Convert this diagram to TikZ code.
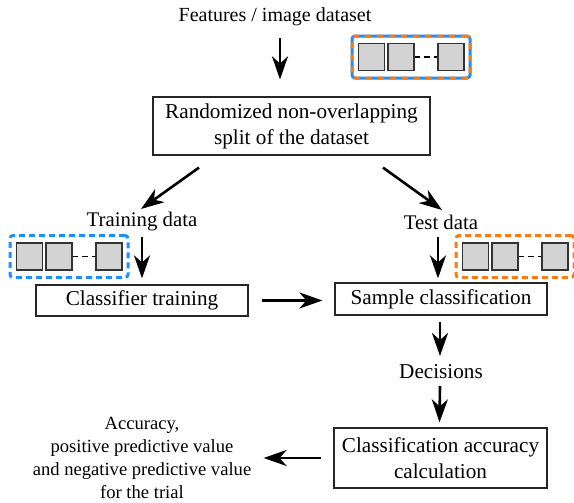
\documentclass[tikz,border=0pt]{standalone}
\usepackage{fontspec}
\setmainfont{Liberation Serif}
\usetikzlibrary{arrows.meta,positioning}

\definecolor{setblue}{HTML}{1E8FFF}
\definecolor{setorange}{HTML}{FF7A0F}
\definecolor{cellgray}{HTML}{D3D3D3}

\tikzset{
  box/.style={draw=black!85,line width=0.6pt,align=center,inner sep=0pt,
    font=\fontsize{10.6}{13}\selectfont},
  lbl/.style={inner sep=0pt,font=\fontsize{10.4}{12}\selectfont},
  arr/.style={-{Stealth[length=11.5pt,width=8pt,inset=3.5pt]},line width=1.3pt},
  cell/.style={draw=black!80,fill=cellgray,line width=0.8pt,
    minimum width=13pt,minimum height=13.5pt,inner sep=0pt},
  setbox/.style={minimum width=59pt,minimum height=21pt,inner sep=0pt,
    line width=1.5pt,rounded corners=1.5pt},
  trainset/.style={setbox,draw=setblue,dash pattern=on 3pt off 2pt},
  testset/.style={setbox,draw=setorange,dash pattern=on 3pt off 2pt},
  fullset/.style={setbox,draw=setblue,
    postaction={draw=setorange,dash pattern=on 3pt off 3pt}},
}

% three samples with dots in between, inside a set frame
\newcommand{\cellrow}[1]{%
  \node[cell,right=3.5pt of #1.west] (#1a) {};
  \node[cell,right=1pt of #1a] (#1b) {};
  \node[cell,left=3.5pt of #1.east] (#1c) {};
  \draw[line width=0.8pt,dash pattern=on 2.6pt off 2.2pt] (#1b.east) -- (#1c.west);
}

\begin{document}
\begin{tikzpicture}[x=0.5pt,y=-0.5pt]
\useasboundingbox (0,0) rectangle (574,503);
% ---------- dataset and split ----------
\node[inner sep=0pt,font=\fontsize{10}{12}\selectfont] (features) at (275,17)
  {Features / image dataset};
\node[fullset] (dataset) at (411,57) {};
\cellrow{dataset}
\node[box,minimum width=138.5pt,minimum height=29pt] (split) at (291.5,126)
  {Randomized non-overlapping\\split of the dataset};
% ---------- training branch ----------
\node[lbl] (trainlbl) at (142,222) {Training data};
\node[trainset] (trainset) at (69,256.5) {};
\cellrow{trainset}
\node[box,minimum width=106pt,minimum height=15.5pt] (classifier) at (142,300.5)
  {Classifier training};
% ---------- test branch ----------
\node[lbl] (testlbl) at (441,222) {Test data};
\node[testset] (testset) at (515,256.5) {};
\cellrow{testset}
\node[box,minimum width=106pt,minimum height=16pt] (sample) at (441,299)
  {Sample classification};
\node[lbl,font=\fontsize{10.6}{12}\selectfont] (decisions) at (441,372) {Decisions};
\node[box,minimum width=106.5pt,minimum height=30pt] (accuracy) at (440.5,458)
  {Classification accuracy\\calculation};
\node[inner sep=0pt,align=center,font=\fontsize{9.3}{11.4}\selectfont] (result) at (142,458)
  {Accuracy,\\positive predictive value\\and negative predictive value\\for the trial};
% ---------- arrows ----------
\draw[arr] ([shift={(5,21)}]features.center) -- ([shift={(-11.5,-17)}]split.north);
\draw[arr] ([shift={(-92.5,12)}]split.south) -- ([shift={(-1,-13)}]trainlbl.center);
\draw[arr] ([shift={(91.5,12)}]split.south) -- ([shift={(1,-12)}]testlbl.center);
\draw[arr] ([shift={(0,15)}]trainlbl.center) -- ([shift={(0,-6)}]classifier.north);
\draw[arr] ([shift={(-3,15)}]testlbl.center) -- ([shift={(-3,-4)}]sample.north);
\draw[arr,shorten <=6.5pt,shorten >=6pt] (classifier.east) -- (classifier.east -| sample.west);
\draw[arr] ([shift={(-1,6)}]sample.south) -- ([shift={(-1,-16)}]decisions.center);
\draw[arr] ([shift={(-1,14)}]decisions.center) -- ([shift={(-1,-5)}]accuracy.north);
\draw[arr,shorten <=6pt,shorten >=6pt] (accuracy.west) -- (accuracy.west -| result.east);
\end{tikzpicture}
\end{document}
